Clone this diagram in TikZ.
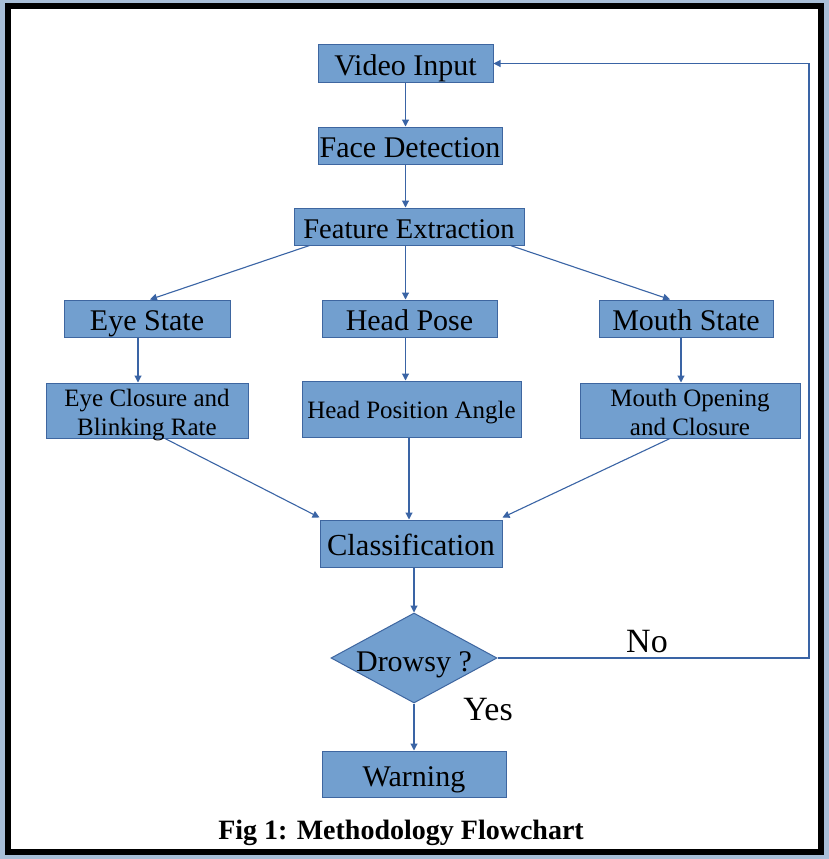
\documentclass[tikz,border=0pt]{standalone}
\usepackage{fontspec}
\setmainfont{Liberation Serif}
\usetikzlibrary{shapes.geometric,arrows.meta}
\definecolor{boxfill}{RGB}{114,159,207}
\definecolor{boxline}{RGB}{62,102,160}
\definecolor{arrowc}{RGB}{58,100,165}
\definecolor{bgblue}{RGB}{168,190,215}
\newcommand{\twolines}[2]{\rule{0pt}{23pt}#1\\\smash{#2}\rule[-2pt]{0pt}{2pt}}
\tikzset{
  box/.style={draw=boxline, fill=boxfill, line width=1pt, rectangle, inner sep=0pt, align=center},
  bigtext/.style={font=\fontsize{30}{34}\selectfont, text height=24pt, text depth=0pt},
  smalltext/.style={font=\fontsize{25}{29}\selectfont, text height=19pt, text depth=0pt},
  twoline/.style={font=\fontsize{25}{29}\selectfont},
  conn/.style={draw=arrowc, line width=1.1pt, -{Triangle[length=7pt,width=7pt]}},
}
\begin{document}
\begin{tikzpicture}[x=1pt,y=1pt]
\useasboundingbox (0,0) rectangle (829,-859);
\fill[bgblue] (0,0) rectangle (829,-859);
\draw[line width=6pt, fill=white] (8,-6) rectangle (821,-852);

\node[box,bigtext,minimum width=175,minimum height=37] (vid) at (405.5,-63.5) {Video Input};
\node[box,bigtext,minimum width=184,minimum height=37] (face) at (410,-145.5) {Face Detection};
\node[box,bigtext,font=\fontsize{28.5}{33}\selectfont,minimum width=230,minimum height=37] (feat) at (409,-226.5) {Feature Extraction};
\node[box,bigtext,minimum width=166,minimum height=37] (eye) at (147,-318.5) {Eye State};
\node[box,bigtext,minimum width=175,minimum height=37] (head) at (409.5,-318.5) {Head Pose};
\node[box,bigtext,minimum width=174,minimum height=37] (mouth) at (686,-318.5) {Mouth State};
\node[box,twoline,minimum width=202,minimum height=55] (eyec) at (147,-410.5) {\twolines{Eye Closure and}{Blinking Rate}};
\node[box,smalltext,minimum width=219,minimum height=56] (headp) at (411.5,-409) {Head Position Angle};
\node[box,twoline,minimum width=220,minimum height=55] (mouthc) at (690,-410.5) {\twolines{Mouth Opening}{and Closure}};
\node[box,bigtext,font=\fontsize{30.5}{34}\selectfont,minimum width=182,minimum height=47] (cls) at (411,-543.5) {Classification};
\node[draw=boxline, fill=boxfill, line width=1pt, diamond, inner sep=0pt, minimum width=166, minimum height=90] (drowsy) at (414,-658) {};
\node[font=\fontsize{30}{34}\selectfont, anchor=base, inner sep=0pt] (drowsyt) at (414,-671) {Drowsy ?};
\node[box,bigtext,minimum width=184,minimum height=46] (warn) at (414,-774) {Warning};

\node[font=\fontsize{34}{38}\selectfont] (no) at (647,-642) {No};
\node[font=\fontsize{34}{38}\selectfont] (yes) at (488,-710) {Yes};
\node[font=\fontsize{28}{32}\selectfont\bfseries, anchor=base, inner sep=0pt] (cap) at (401,-839) {Fig 1: Methodology Flowchart};

\coordinate (loop) at (809,-658);

\draw[conn] (vid.south) -- (vid.south |- face.north);
\draw[conn] (vid.south |- face.south) -- (vid.south |- feat.north);
\draw[conn] ([xshift=16pt]feat.south west) -- ([xshift=3pt]eye.north);
\draw[conn] (vid.south |- feat.south) -- (vid.south |- head.north);
\draw[conn] ([xshift=-14pt]feat.south east) -- ([xshift=-16pt]mouth.north);
\draw[conn] ([xshift=-9pt]eye.south) -- ([xshift=-9pt]eyec.north);
\draw[conn] (vid.south |- head.south) -- (vid.south |- headp.north);
\draw[conn] ([xshift=-5pt]mouth.south) -- ([xshift=-9pt]mouthc.north);
\draw[conn] ([xshift=18pt]eyec.south) -- ([yshift=2pt]cls.north west);
\draw[conn] ([xshift=-2.5pt]headp.south) -- ([xshift=-2pt]cls.north);
\draw[conn] ([xshift=-20pt]mouthc.south) -- ([yshift=2pt]cls.north east);
\draw[conn] (cls.south -| drowsy.north) -- (drowsy.north);
\draw[conn] (drowsy.south) -- (drowsy.south |- warn.north);
\draw[conn] (drowsy.east) -- (loop) |- (vid.east);
\end{tikzpicture}
\end{document}
